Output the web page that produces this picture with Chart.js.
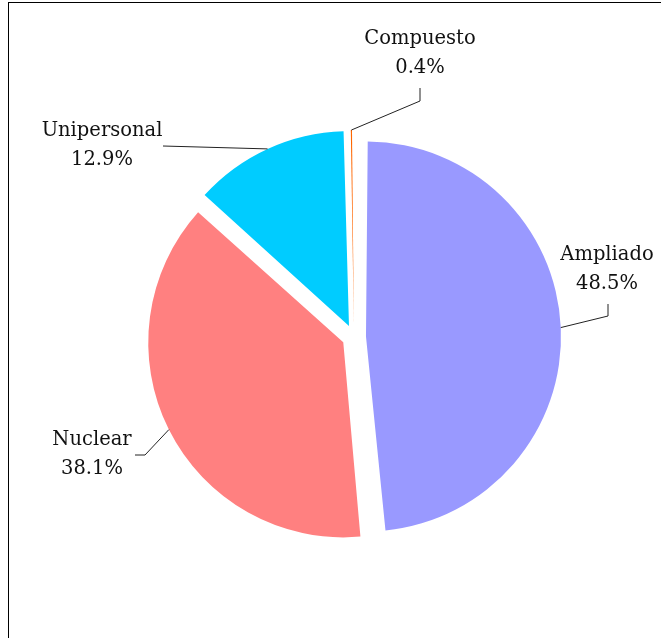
<!DOCTYPE html>
<html>
<head>
<meta charset="utf-8">
<script src="https://cdn.jsdelivr.net/npm/chart.js@4/dist/chart.umd.min.js"></script>
<style>
  html, body { margin: 0; padding: 0; background: #fff; overflow: hidden; }
  #frame { position: absolute; left: 8px; top: 2px; width: 700px; height: 700px;
           border-left: 1px solid #000; border-top: 1px solid #000; }
  #wrap { position: absolute; left: 0; top: 0; width: 661px; height: 638px; }
</style>
</head>
<body>
<div id="frame"></div>
<div id="wrap"><canvas id="myChart"></canvas></div>
<script>
const labels = ['Ampliado', 'Nuclear', 'Unipersonal', 'Compuesto'];
const values = [48.5, 38.1, 12.9, 0.4];
const colors = ['#9999FF', '#FF8080', '#00CCFF', '#FF6600'];

const RADIUS = 195;
const OFFSET = 48; // chart.js moves a slice by offset / 4

// label text centres and leader points, relative to the pie centre
const textPos = [[253, -68], [-262, 117], [-252, -192], [66, -284]];
const elbowPos = [[254, -21], [-209, 118], [-191, -191], [66, -236]];
const endPos = [[254, -33], [-219, 118], [-191, -191], [66, -249]];

// keep every exploded slice at the same radius
const evenRadius = {
  id: 'evenRadius',
  afterUpdate(chart) {
    chart.getDatasetMeta(0).data.forEach(arc => {
      const fix = 1 - Math.sin(Math.min(Math.PI, arc.circumference));
      arc.outerRadius = RADIUS - (OFFSET / 4) * fix;
    });
  }
};

const pieLabels = {
  id: 'pieLabels',
  afterDatasetsDraw(chart) {
    const ctx = chart.ctx;
    const area = chart.chartArea;
    const cx = (area.left + area.right) / 2;
    const cy = (area.top + area.bottom) / 2;
    ctx.save();
    ctx.strokeStyle = '#222';
    ctx.lineWidth = 1;
    ctx.fillStyle = '#111';
    ctx.font = '19.5px "DejaVu Serif", serif';
    ctx.textAlign = 'center';
    ctx.textBaseline = 'middle';
    chart.getDatasetMeta(0).data.forEach((arc, i) => {
      const mid = (arc.startAngle + arc.endAngle) / 2;
      const d = OFFSET / 4 + RADIUS;
      const sx = arc.x + Math.cos(mid) * d;
      const sy = arc.y + Math.sin(mid) * d;
      ctx.beginPath();
      ctx.moveTo(sx, sy);
      ctx.lineTo(cx + elbowPos[i][0], cy + elbowPos[i][1]);
      ctx.lineTo(cx + endPos[i][0], cy + endPos[i][1]);
      ctx.stroke();
      const tx = cx + textPos[i][0];
      const ty = cy + textPos[i][1];
      ctx.fillText(labels[i], tx, ty - 14.5);
      ctx.fillText(values[i].toFixed(1) + '%', tx, ty + 14.5);
    });
    ctx.restore();
  }
};

const ctx = document.getElementById('myChart').getContext('2d');
const myChart = new Chart(ctx, {
  type: 'pie',
  data: {
    labels: labels,
    datasets: [{
      data: values,
      backgroundColor: colors,
      borderWidth: 0,
      offset: OFFSET,
      radius: RADIUS
    }]
  },
  options: {
    responsive: true,
    maintainAspectRatio: false,
    animation: false,
    layout: { padding: { left: 47, top: 36, right: 0, bottom: 0 } },
    plugins: {
      legend: { display: false },
      tooltip: { enabled: false }
    }
  },
  plugins: [evenRadius, pieLabels]
});
</script>
</body>
</html>
